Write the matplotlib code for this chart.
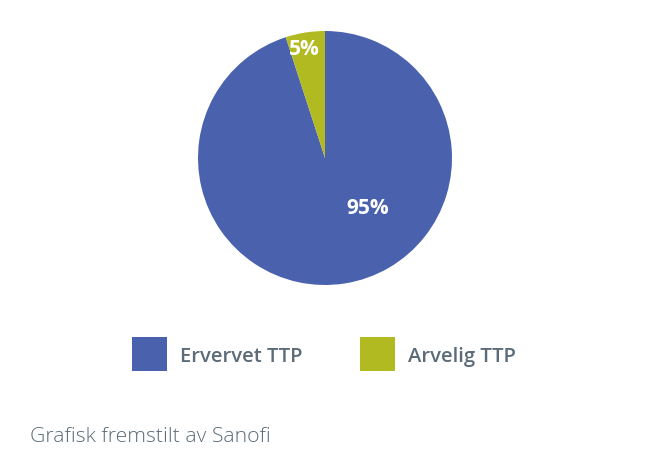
import matplotlib.pyplot as plt
from matplotlib.patches import Rectangle

plt.rcParams["font.family"] = ["Open Sans", "DejaVu Sans"]

labels = ["Ervervet TTP", "Arvelig TTP"]
shares = [95, 5]
pct_labels = ["95%", "5%"]
colors = ["#4A62AE", "#B2BA22"]
TEXT_GREY = "#5B6B78"

W, H = 650, 461
fig = plt.figure(figsize=(W / 100, H / 100), dpi=100)

# pie axes: centre (325, 158) px, radius 127 px
cx, cy, r = 325, 158, 127
ax = fig.add_axes([(cx - r) / W, (H - cy - r) / H, 2 * r / W, 2 * r / H])
ax.pie(shares, colors=colors, startangle=90, counterclock=False,
       wedgeprops={"linewidth": 0})
ax.set_xlim(-1, 1)
ax.set_ylim(-1, 1)
ax.set_aspect("equal")
ax.axis("off")

# percentage labels
ax.text(0.34, -0.40, pct_labels[0], color="white", fontsize=15,
        fontweight="bold", ha="center", va="center")
ax.text(-0.165, 0.855, pct_labels[1], color="white", fontsize=15,
        fontweight="bold", ha="center", va="center")

# legend, drawn by hand: square + label
legend_x = [132, 360]
for x0, lab, c in zip(legend_x, labels, colors):
    fig.add_artist(Rectangle((x0 / W, 1 - 371 / H), 35 / W, 34 / H,
                             transform=fig.transFigure, facecolor=c,
                             edgecolor="none"))
    fig.text((x0 + 48) / W, 1 - 357 / H, lab, color=TEXT_GREY, fontsize=14.6,
             fontweight="semibold", ha="left", va="center")

fig.text(30 / W, 1 - 437 / H, "Grafisk fremstilt av Sanofi", color=TEXT_GREY,
         fontsize=15.2, fontweight="light", ha="left", va="center")

fig.savefig("out.png", dpi=100)
